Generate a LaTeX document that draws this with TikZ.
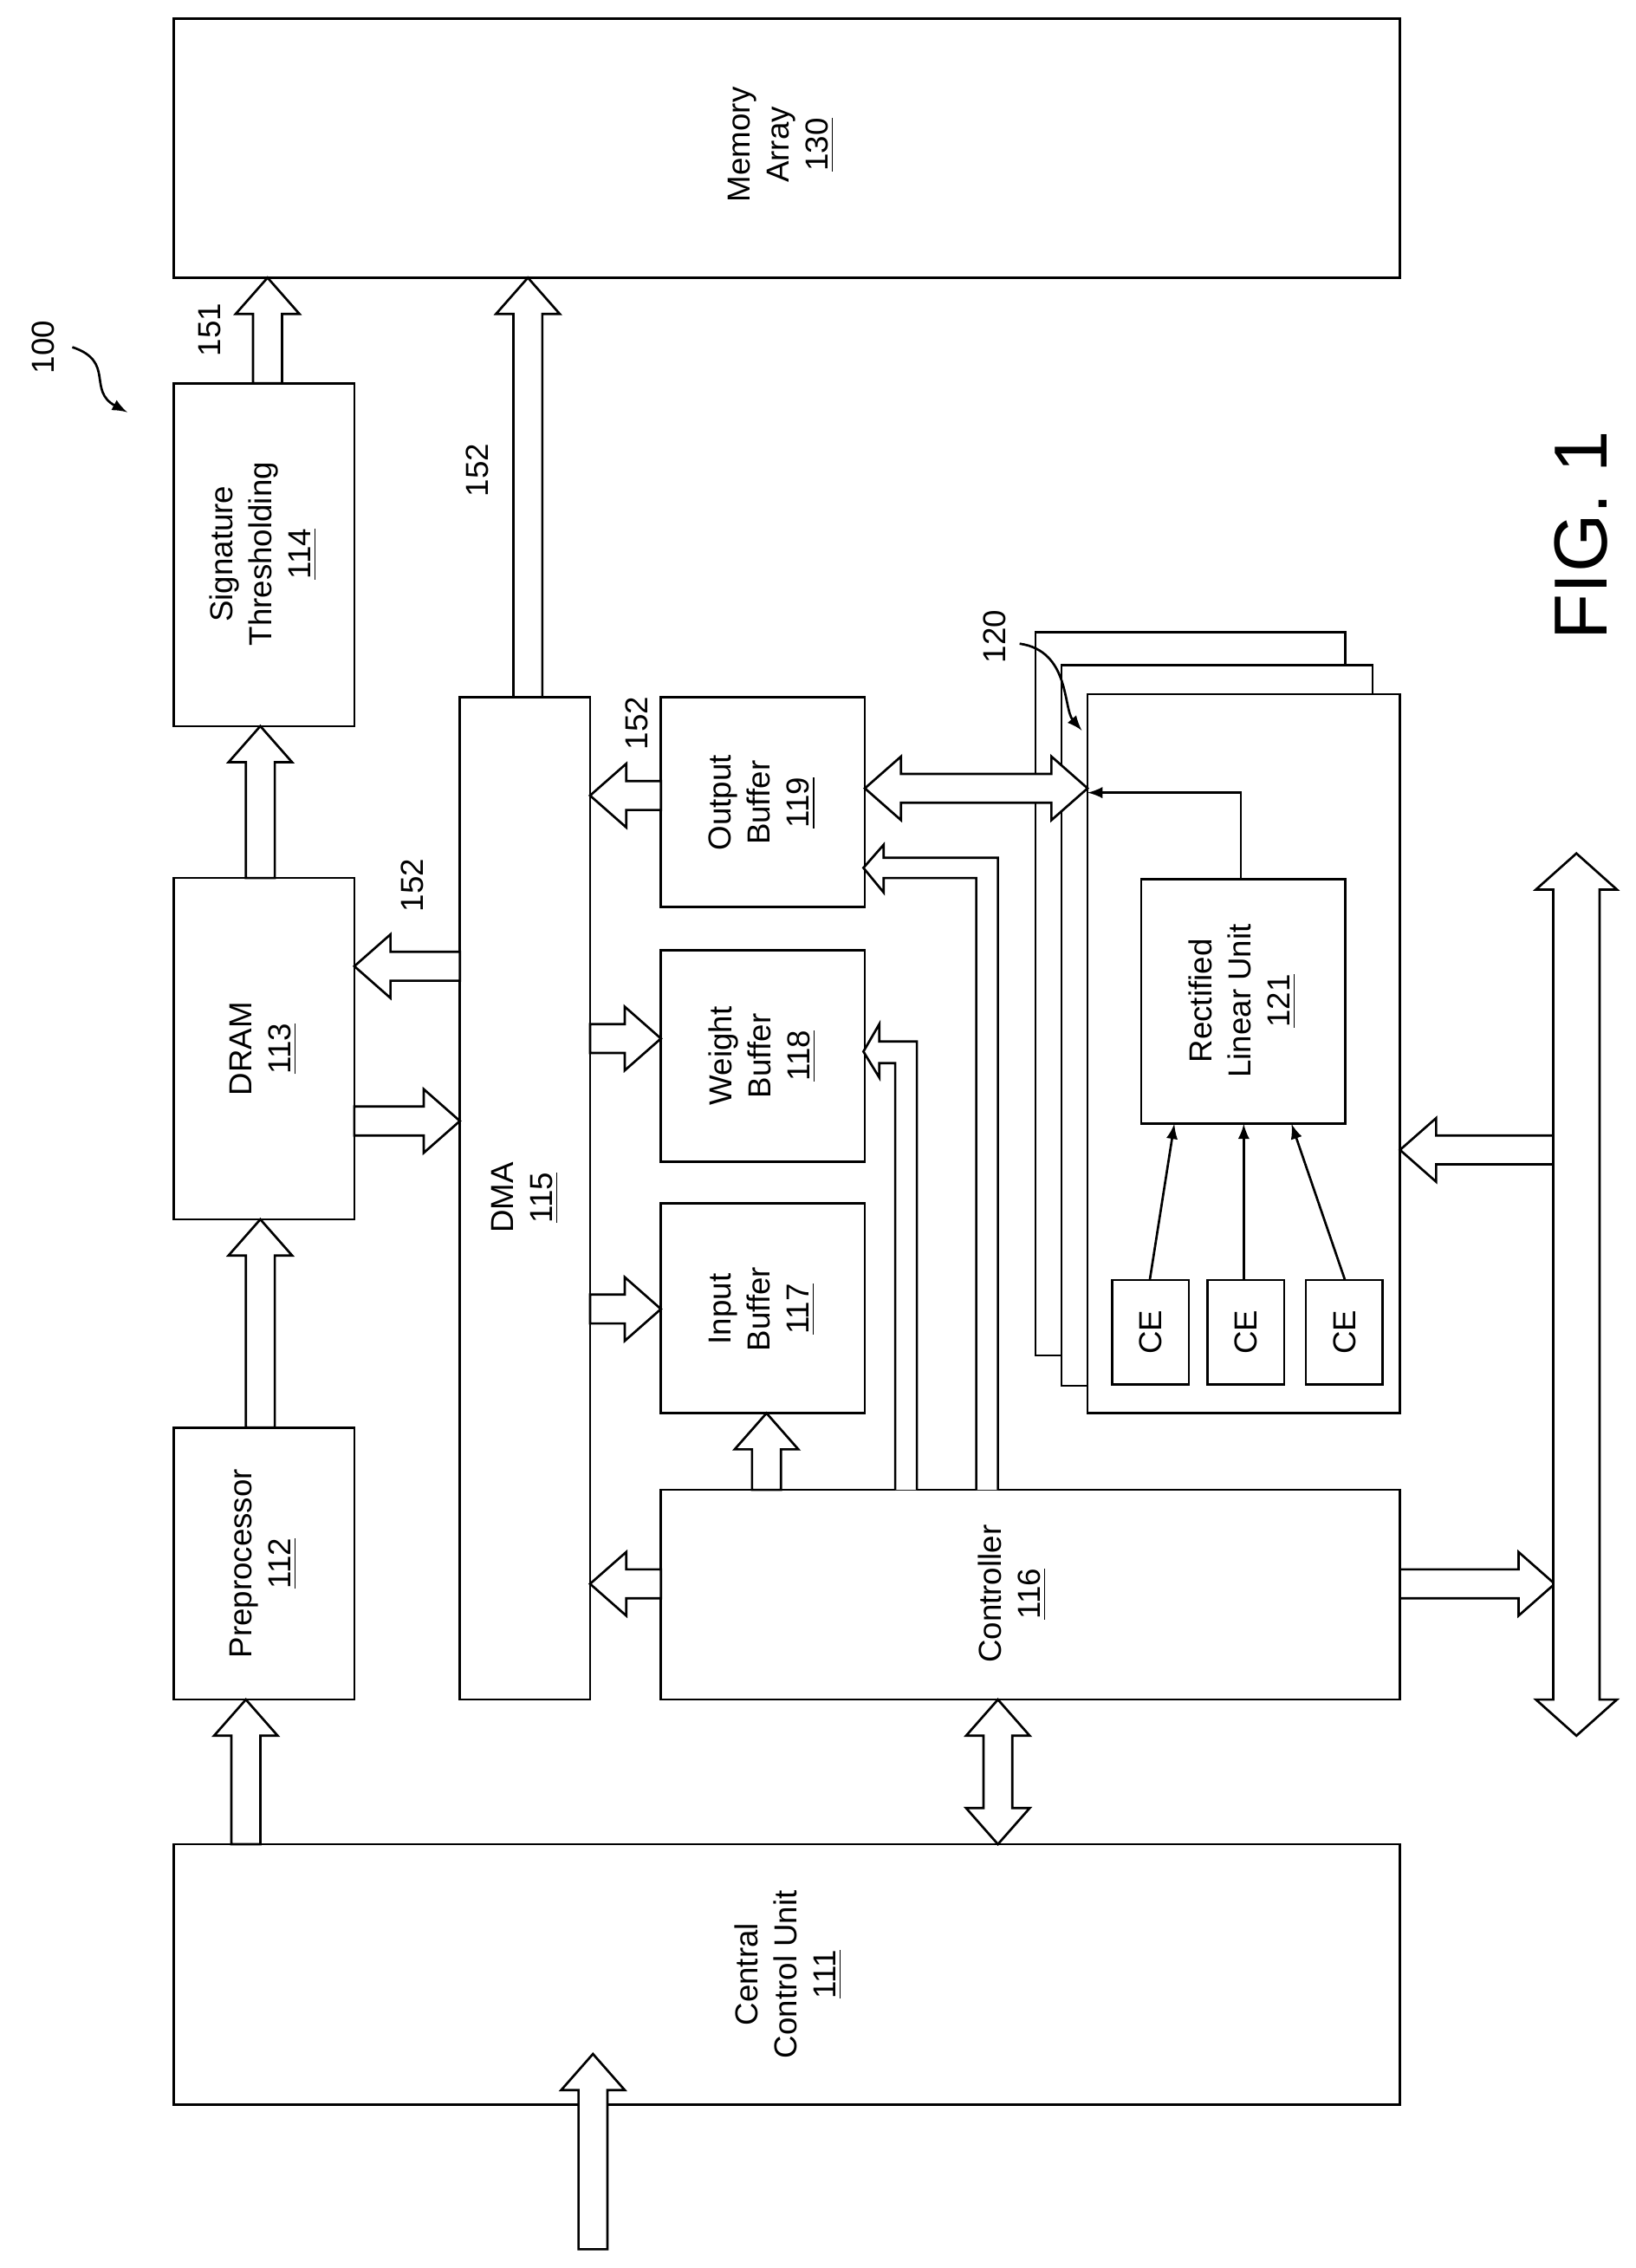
\documentclass[tikz,border=0pt]{standalone}
\usepackage{fontspec}
\setmainfont{Liberation Sans}
\begin{document}
\begin{tikzpicture}[x=0.5pt,y=-0.5pt,line width=0.8pt,
  box/.style={draw,thick},
  lbl/.style={rotate=90,align=center,font=\fontsize{11}{13.5}\selectfont},
  num/.style={rotate=90,font=\fontsize{11}{13}\selectfont},
  blk/.style={draw,thick,fill=white,line join=miter}]
\useasboundingbox (0,0) rectangle (1131,1568);
\newcommand\harr[4][10]{\pgfmathsetmacro\hb{#4-((#4>#3)?1:-1)*25}\pgfmathsetmacro\hh{#1+12}%
 \draw[blk] (#3,#2-#1)--(\hb,#2-#1)--(\hb,#2-\hh)--(#4,#2)--(\hb,#2+\hh)--(\hb,#2+#1)--(#3,#2+#1)--cycle;}
\newcommand\varr[4][10]{\pgfmathsetmacro\hb{#4-((#4>#3)?1:-1)*25}\pgfmathsetmacro\hh{#1+12}%
 \draw[blk] (#2-#1,#3)--(#2-#1,\hb)--(#2-\hh,\hb)--(#2,#4)--(#2+\hh,\hb)--(#2+#1,\hb)--(#2+#1,#3)--cycle;}
\newcommand\dharr[4][10]{\pgfmathsetmacro\ha{#3+25}\pgfmathsetmacro\hb{#4-25}\pgfmathsetmacro\hh{#1+12}%
 \draw[blk] (#3,#2)--(\ha,#2-\hh)--(\ha,#2-#1)--(\hb,#2-#1)--(\hb,#2-\hh)--(#4,#2)--(\hb,#2+\hh)--(\hb,#2+#1)--(\ha,#2+#1)--(\ha,#2+\hh)--cycle;}
\newcommand\dvarr[4][10]{\pgfmathsetmacro\ha{#3+25}\pgfmathsetmacro\hb{#4-25}\pgfmathsetmacro\hh{#1+12}%
 \draw[blk] (#2,#3)--(#2-\hh,\ha)--(#2-#1,\ha)--(#2-#1,\hb)--(#2-\hh,\hb)--(#2,#4)--(#2+\hh,\hb)--(#2+#1,\hb)--(#2+#1,\ha)--(#2+\hh,\ha)--cycle;}
% boxes
\draw[box] (120,13) rectangle (968,192); \node[lbl] (mem) at (540,100) {Memory\\Array\\\underline{130}};
\draw[box] (120,265) rectangle (245,502); \node[lbl] (st) at (182,383) {Signature\\Thresholding\\\underline{114}};
\draw[box] (120,607) rectangle (245,843); \node[lbl] (dram) at (182,725) {DRAM\\\underline{113}};
\draw[box] (120,987) rectangle (245,1175); \node[lbl] (pre) at (182,1081) {Preprocessor\\\underline{112}};
\draw[box] (120,1275) rectangle (968,1455); \node[lbl] (ccu) at (545,1365) {Central\\Control Unit\\\underline{111}};
\draw[box] (318,482) rectangle (408,1175); \node[lbl] (dma) at (363,828) {DMA\\\underline{115}};
\draw[box] (457,482) rectangle (598,627); \node[lbl] (ob) at (527,555) {Output\\Buffer\\\underline{119}};
\draw[box] (457,657) rectangle (598,803); \node[lbl] (wb) at (527,730) {Weight\\Buffer\\\underline{118}};
\draw[box] (457,832) rectangle (598,977); \node[lbl] (ib) at (527,905) {Input\\Buffer\\\underline{117}};
\draw[box] (457,1030) rectangle (968,1175); \node[lbl] (ctl) at (700,1102) {Controller\\\underline{116}};
\draw[box] (716,437) rectangle (930,937);
\draw[box,fill=white] (734,460) rectangle (949,958);
\draw[box,fill=white] (752,480) rectangle (968,977);
\draw[box] (789,608) rectangle (930,777); \node[lbl] (rlu) at (859,692) {Rectified\\Linear Unit\\\underline{121}};
\foreach \x/\n in {769/ce1,835/ce2,903/ce3}{\draw[box] (\x,885) rectangle (\x+53,957); \node[lbl] (\n) at (\x+26.5,921) {CE};}
% block arrows
\varr{410}{1555}{1420}
\varr{170}{1275}{1175}
\varr{180}{987}{843}
\varr{180}{607}{502}
\varr{185}{265}{192}
\varr{365}{482}{192}
\harr{775}{245}{318}
\harr{668}{318}{245}
\harr{550}{457}{408}
\harr{718}{408}{457}
\harr{905}{408}{457}
\harr{1095}{457}{408}
\varr{530}{1030}{977}
\draw[blk] (619,1030)--(619,735)--(608,735)--(608,745)--(597,727)--(608,708)--(608,720)--(634,720)--(634,1030);
\draw[blk] (675,1030)--(675,607)--(611,607)--(611,617)--(597,600)--(611,584)--(611,593)--(690,593)--(690,1030);
\dharr{545}{598}{752}
\harr{1095}{968}{1075}
\harr{795}{1075}{968}
\dvarr{690}{1175}{1275}
\dvarr[16]{1090}{590}{1200}
% thin arrows
\draw[-latex] (795,885)--(812,777);
\draw[-latex] (860,885)--(860,777);
\draw[-latex] (930,885)--(893,777);
\draw[-latex] (858,608)--(858,548)--(752,548);
% labels
\node[num] (l151) at (145,228) {151};
\node[num] (l152a) at (330,325) {152};
\node[num] (l152b) at (285,612) {152};
\node[num] (l152c) at (440,500) {152};
\node[num] (l120) at (688,440) {120};
\draw[-latex] (705,445) .. controls (740,450) and (735,490) .. (748,505);
\node[num] (l100) at (30,240) {100};
\draw[-latex] (50,240) .. controls (80,250) and (60,270) .. (88,285);
\node[rotate=90,font=\fontsize{26}{30}\selectfont] (fig) at (1093,370) {FIG. 1};
\end{tikzpicture}
\end{document}
